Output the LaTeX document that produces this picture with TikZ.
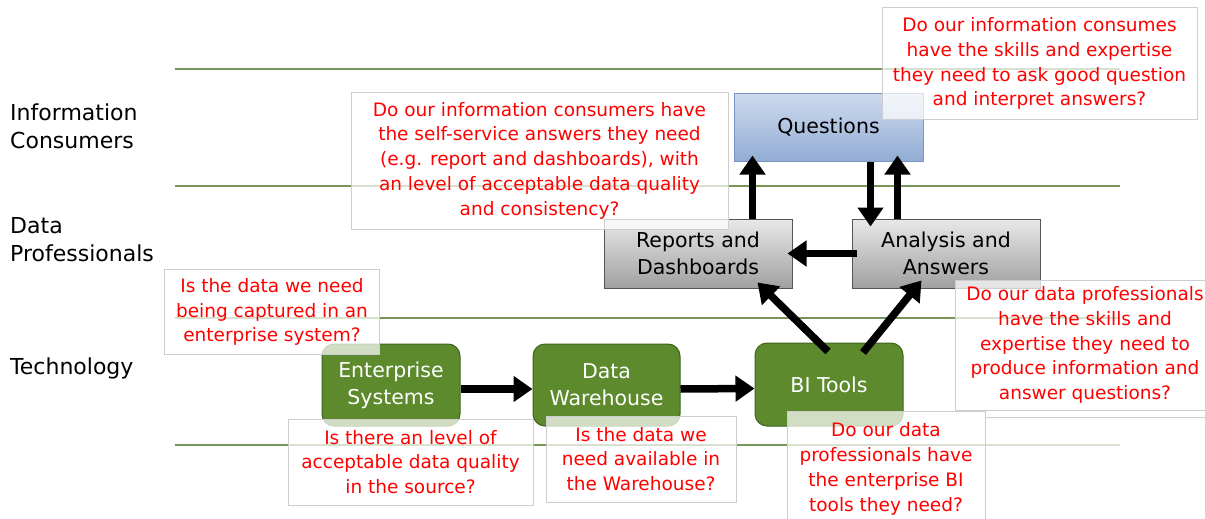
\documentclass[tikz,border=0pt]{standalone}
\usepackage{fontspec}
\setmainfont{DejaVu Sans}
\usetikzlibrary{arrows.meta,calc}
\definecolor{lanecol}{RGB}{118,150,88}
\definecolor{greenfill}{RGB}{92,138,44}
\definecolor{greenedge}{RGB}{64,100,30}
\definecolor{qred}{RGB}{255,0,0}
\definecolor{boxedge}{RGB}{205,205,205}
\definecolor{bluetop}{RGB}{206,219,238}
\definecolor{bluebot}{RGB}{146,172,212}
\definecolor{blueedge}{RGB}{120,150,195}
\definecolor{graytop}{RGB}{232,232,232}
\definecolor{graybot}{RGB}{160,160,160}
\definecolor{grayedge}{RGB}{85,85,85}
\tikzset{
  lane/.style={draw=lanecol,line width=1.6pt},
  lanelabel/.style={anchor=west,align=left,font=\fontsize{22}{28}\selectfont,inner sep=0pt},
  greenbox/.style={draw=greenedge,line width=1pt,fill=greenfill,rounded corners=12pt,
    text=white,align=center,font=\fontsize{20.5}{27}\selectfont,inner sep=0pt},
  bluebox/.style={draw=blueedge,line width=1pt,top color=bluetop,bottom color=bluebot,
    align=center,font=\fontsize{20.5}{27}\selectfont,inner sep=0pt},
  graybox/.style={draw=grayedge,line width=1pt,top color=graytop,bottom color=graybot,
    align=center,font=\fontsize{20.5}{27}\selectfont,inner sep=0pt},
  qbox/.style={draw=boxedge,line width=1pt,fill=white,fill opacity=0.72,text opacity=1,
    text=qred,align=center,font=\fontsize{18.5}{24.8}\selectfont,inner sep=0pt},
  arr/.style={line width=7.5pt,-{Triangle[length=19pt,width=25pt]}}
}
\begin{document}
\begin{tikzpicture}[x=1pt,y=-1pt]
\useasboundingbox[fill=white] (0,0) rectangle (1205,519);
% lanes
\coordinate (l1a) at (175,69);  \coordinate (l1b) at (1120,69);
\coordinate (l2a) at (175,186); \coordinate (l2b) at (1120,186);
\coordinate (l3a) at (175,318); \coordinate (l3b) at (1120,318);
\coordinate (l4a) at (175,445); \coordinate (l4b) at (1120,445);
\draw[lane] (l1a) -- (l1b);
\draw[lane] (l2a) -- (l2b);
\draw[lane] (l3a) -- (l3b);
\draw[lane] (l4a) -- (l4b);
% lane labels
\node[lanelabel] (lab1) at (10,126) {Information\\Consumers};
\node[lanelabel] (lab2) at (10,240) {Data\\Professionals};
\node[lanelabel] (lab3) at (10,368) {Technology};
% main nodes
\node[bluebox,minimum width=189pt,minimum height=68pt] (q) at (828.5,127) {Questions};
\node[graybox,minimum width=188pt,minimum height=69pt] (rd) at (698,253.5) {Reports and\\Dashboards};
\node[graybox,minimum width=188pt,minimum height=69pt] (aa) at (946,253.5) {Analysis and\\Answers};
\node[greenbox,minimum width=138pt,minimum height=82pt] (es) at (391,385) {Enterprise\\Systems};
\node[greenbox,minimum width=147pt,minimum height=82pt] (dw) at (606.5,385) {Data\\Warehouse};
\node[greenbox,minimum width=148pt,minimum height=83pt] (bi) at (829,384.5) {BI Tools};
% arrows
\draw[arr] ([yshift=-4pt]es.east) -- ([yshift=-4pt]dw.west);
\draw[arr] ([yshift=-4pt]dw.east) -- ([yshift=-4pt]bi.west);
\coordinate (a1) at ($(q.south west)+(19,-6)$);
\draw[arr] (rd.north -| a1) -- (a1);
\coordinate (a2s) at ($(q.south west)+(137,0)$);
\draw[arr] (a2s) -- ($(aa.north west)+(19,8)$);
\coordinate (a3) at ($(q.south west)+(164,-6)$);
\draw[arr] (aa.north -| a3) -- (a3);
\draw[arr] ($(aa.west)+(5,0)$) -- ($(rd.east)+(-5,0)$);
\draw[arr] ($(bi.north)+(-1,9)$) -- ($(rd.south east)+(-35,-6)$);
\draw[arr] ($(bi.north)+(34,10)$) -- ($(aa.south west)+(70,-8)$);
% question boxes
\node[qbox,minimum width=315pt,minimum height=111pt] (qb1) at (1039.5,63.5)
  {Do our information consumes\\have the skills and expertise\\they need to ask good question\\and interpret answers?};
\node[qbox,minimum width=377pt,minimum height=137pt] (qb2) at (539.5,160.5)
  {Do our information consumers have\\the self-service answers they need\\(e.g. report and dashboards), with\\an level of acceptable data quality\\and consistency?};
\node[qbox,minimum width=215pt,minimum height=85pt] (qb3) at (272,312)
  {Is the data we need\\being captured in an\\enterprise system?};
\node[qbox,minimum width=245pt,minimum height=86pt] (qb4) at (410.5,462)
  {Is there an level of\\acceptable data quality\\in the source?};
\node[qbox,minimum width=190pt,minimum height=86pt] (qb5) at (641,459)
  {Is the data we\\need available in\\the Warehouse?};
\node[qbox,minimum width=260pt,minimum height=130pt] (qb7) at (1085,345)
  {Do our data professionals\\have the skills and\\expertise they need to\\produce information and\\answer questions?};
\node[qbox,minimum width=230pt,minimum height=110pt] (qb8) at (1100,472) {};
\node[qbox,minimum width=198pt,minimum height=116pt] (qb6) at (886,469)
  {Do our data\\professionals have\\the enterprise BI\\tools they need?};
\end{tikzpicture}
\end{document}
